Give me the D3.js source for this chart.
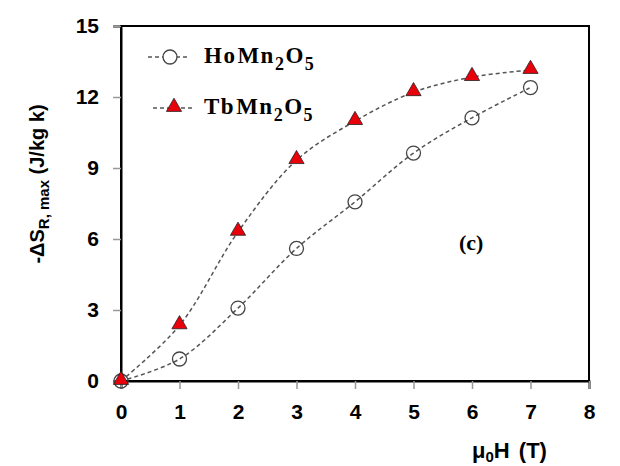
<!DOCTYPE html>
<html>
<head>
<meta charset="utf-8">
<script src="https://cdn.jsdelivr.net/npm/d3@7"></script>
<style>
  body { margin: 0; background: #fff; }
</style>
</head>
<body>
<div id="chart"></div>
<script>
// data
var fieldT = [0, 1, 2, 3, 4, 5, 6, 7];
var hoValues = [0, 0.93, 3.08, 5.6, 7.57, 9.63, 11.12, 12.4];
var tbValues = [0, 2.35, 6.3, 9.33, 10.98, 12.2, 12.84, 13.14];
var xTicks = [0, 1, 2, 3, 4, 5, 6, 7, 8];
var yTicks = [0, 3, 6, 9, 12, 15];

var margin = {top: 26, right: 31, bottom: 85, left: 121},
    width = 620 - margin.left - margin.right,
    height = 466 - margin.top - margin.bottom;

var svg = d3.select("#chart")
    .append("svg")
    .attr("width", 620)
    .attr("height", 466);

var g = svg.append("g")
    .attr("transform", "translate(" + margin.left + "," + margin.top + ")");

var x = d3.scaleLinear().domain([0, 8]).range([0, width]);
var y = d3.scaleLinear().domain([0, 15]).range([height, 0]);

// frame
g.append("rect")
    .attr("width", width)
    .attr("height", height)
    .attr("fill", "none")
    .attr("stroke", "#000")
    .attr("stroke-width", 2);

// axes
var xAxis = g.append("g")
    .attr("transform", "translate(0," + height + ")")
    .call(d3.axisBottom(x).tickValues(xTicks).tickSize(8).tickPadding(15).tickFormat(d3.format("d")));

var yAxis = g.append("g")
    .call(d3.axisLeft(y).tickValues(yTicks).tickSize(8).tickPadding(14).tickFormat(d3.format("d")));

[xAxis, yAxis].forEach(function(a) {
  a.select(".domain").attr("stroke", "#000").attr("stroke-width", 2);
  a.selectAll(".tick line").attr("stroke", "#999").attr("stroke-width", 1.5);
  a.selectAll(".tick text")
      .style("font-family", "Arial, 'Liberation Sans', sans-serif")
      .style("font-weight", "bold")
      .style("font-size", "21px")
      .attr("fill", "#000");
});

// curves
var line = d3.line()
    .x(function(d, i) { return x(fieldT[i]); })
    .y(function(d) { return y(d); })
    .curve(d3.curveCatmullRom.alpha(0.5));

[hoValues, tbValues].forEach(function(vals) {
  g.append("path")
      .datum(vals)
      .attr("d", line)
      .attr("fill", "none")
      .attr("stroke", "#555")
      .attr("stroke-width", 1.5)
      .attr("stroke-dasharray", "4,3");
});

// markers
g.selectAll(".ho")
    .data(hoValues)
    .enter()
    .append("circle")
    .attr("class", "ho")
    .attr("cx", function(d, i) { return x(fieldT[i]); })
    .attr("cy", function(d) { return y(d); })
    .attr("r", 7)
    .attr("fill", "none")
    .attr("stroke", "#444")
    .attr("stroke-width", 1.3);

var tri = d3.symbol().type(d3.symbolTriangle).size(100);
g.selectAll(".tb")
    .data(tbValues)
    .enter()
    .append("path")
    .attr("class", "tb")
    .attr("d", tri)
    .attr("transform", function(d, i) { return "translate(" + x(fieldT[i]) + "," + (y(d) - 1) + ")"; })
    .attr("fill", "#e8000b")
    .attr("stroke", "#222")
    .attr("stroke-width", 0.8);

// legend
var legend = svg.append("g");
var legendRows = [
  {name: "Ho", y: 57, x1: 148, x2: 188, mx: 170, marker: "circle"},
  {name: "Tb", y: 108, x1: 153, x2: 192, mx: 174, marker: "triangle"}
];
legendRows.forEach(function(r) {
  var row = legend.append("g").attr("transform", "translate(0," + r.y + ")");
  row.append("line")
      .attr("x1", r.x1).attr("x2", r.x2)
      .attr("stroke", "#555")
      .attr("stroke-width", 1.5)
      .attr("stroke-dasharray", "4,3");
  if (r.marker == "circle") {
    row.append("circle").attr("cx", r.mx).attr("r", 7)
        .attr("fill", "#fff").attr("stroke", "#444").attr("stroke-width", 1.3);
  } else {
    row.append("path").attr("d", tri).attr("transform", "translate(" + r.mx + ",-1)")
        .attr("fill", "#e8000b").attr("stroke", "#222").attr("stroke-width", 0.8);
  }
  var t = row.append("text")
      .attr("x", 204)
      .attr("y", 6)
      .style("font-family", "'Liberation Serif', 'Times New Roman', serif")
      .style("font-weight", "bold")
      .style("font-size", "23px")
      .style("letter-spacing", "1.5px");
  t.append("tspan").text(r.name);
  t.append("tspan").attr("dx", 1).text("Mn");
  t.append("tspan").attr("dy", 7).style("font-size", "18px").text("2");
  t.append("tspan").attr("dy", -7).text("O");
  t.append("tspan").attr("dy", 7).style("font-size", "18px").text("5");
});

// panel tag
svg.append("text")
    .attr("x", 459)
    .attr("y", 250)
    .style("font-family", "'Liberation Serif', 'Times New Roman', serif")
    .style("font-weight", "bold")
    .style("font-size", "22px")
    .text("(c)");

// x label
var xl = svg.append("text")
    .attr("x", 472)
    .attr("y", 458)
    .style("font-family", "Arial, 'Liberation Sans', sans-serif")
    .style("font-weight", "bold")
    .style("font-size", "22px")
    .style("word-spacing", "3px");
xl.append("tspan").text("\u03bc");
xl.append("tspan").attr("dy", 4).style("font-size", "15px").text("0");
xl.append("tspan").attr("dy", -4).text("H (T)");

// y label
var yl = svg.append("text")
    .attr("transform", "translate(44,184) rotate(-90)")
    .attr("text-anchor", "middle")
    .style("font-family", "Arial, 'Liberation Sans', sans-serif")
    .style("font-weight", "bold")
    .style("font-size", "20px");
yl.append("tspan").text("-\u0394S");
yl.append("tspan").attr("dy", 5).style("font-size", "15px").text("R, max");
yl.append("tspan").attr("dy", -5).text(" (J/kg k)");
</script>
</body>
</html>
